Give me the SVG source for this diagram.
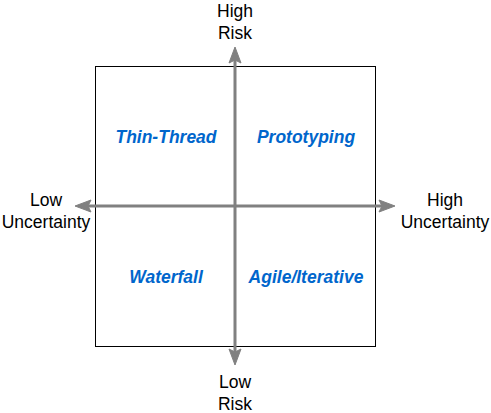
<svg xmlns="http://www.w3.org/2000/svg" width="491" height="413" viewBox="0 0 491 413">
<style>
.ax{font-family:"Liberation Sans",Arial,sans-serif;font-size:17.5px;fill:#000;text-anchor:middle}
.q{font-family:"Liberation Sans",Arial,sans-serif;font-size:17.5px;font-weight:bold;font-style:italic;fill:#0066CC;text-anchor:middle}
.ln{stroke:#808080;stroke-width:3;fill:none}
.hd{fill:#808080;stroke:#808080;stroke-width:1}
</style>
<rect width="491" height="413" fill="#fff"/>
<g id="box"><rect x="95.5" y="66.5" width="280" height="280" fill="#fff" stroke="#000" stroke-width="1"/></g>
<g id="connectors">
<line class="ln" x1="235" y1="58" x2="235" y2="354"/>
<path class="hd" d="M235,47 L241,63 L235,60 L229,63 Z"/>
<path class="hd" d="M235,365 L241,349 L235,352 L229,349 Z"/>
<line class="ln" x1="86" y1="206" x2="384" y2="206"/>
<path class="hd" d="M75,206 L91,200 L88,206 L91,212 Z"/>
<path class="hd" d="M395,206 L379,200 L382,206 L379,212 Z"/>
</g>
<g id="high-risk"><text class="ax" x="235" y="17">High</text><text class="ax" x="235" y="39">Risk</text></g>
<g id="low-risk"><text class="ax" x="235" y="388">Low</text><text class="ax" x="235" y="410">Risk</text></g>
<g id="low-uncertainty"><text class="ax" x="46" y="206">Low</text><text class="ax" x="46" y="228">Uncertainty</text></g>
<g id="high-uncertainty"><text class="ax" x="445" y="206">High</text><text class="ax" x="445" y="228">Uncertainty</text></g>
<g id="thin-thread"><text class="q" x="166" y="143">Thin-Thread</text></g>
<g id="prototyping"><text class="q" x="306" y="143">Prototyping</text></g>
<g id="waterfall"><text class="q" x="166" y="283">Waterfall</text></g>
<g id="agile"><text class="q" x="306" y="283">Agile/Iterative</text></g>
</svg>
